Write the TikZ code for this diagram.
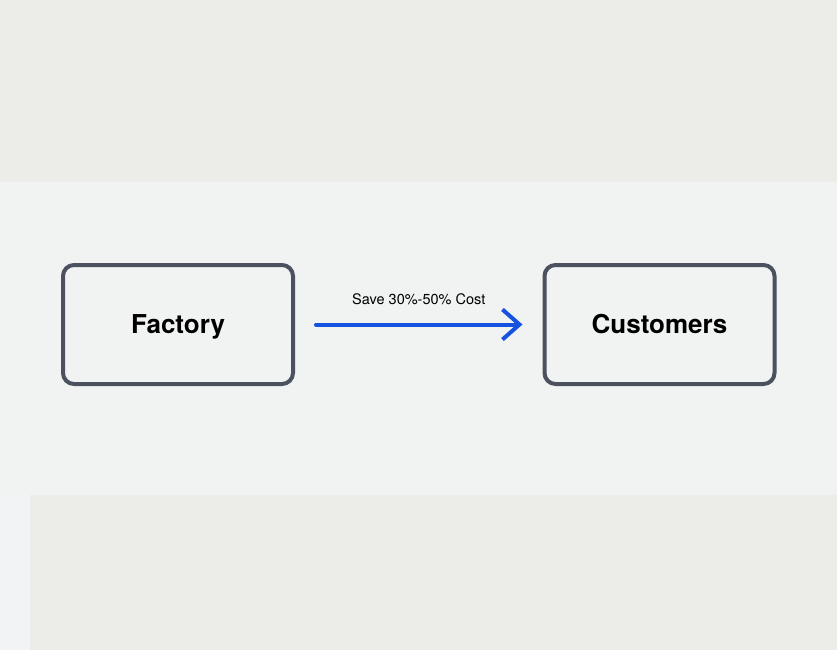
\documentclass[tikz,border=0pt]{standalone}
\usepackage{fontspec}
\setmainfont{TeX Gyre Heros}
\usetikzlibrary{arrows.meta,positioning}
\definecolor{bgtop}{HTML}{ECECE8}
\definecolor{bgmid}{HTML}{F1F2F2}
\definecolor{bgstrip}{HTML}{F2F3F4}
\definecolor{boxline}{HTML}{4B515E}
\definecolor{flowblue}{HTML}{1552DF}
\begin{document}
\begin{tikzpicture}[line cap=round,line join=round,x=1pt,y=-1pt,
	site/.style={draw=boxline,line width=4pt,rounded corners=11pt,fill=bgmid,
		minimum width=230pt,minimum height=119pt,text height=18.7pt,text depth=0pt,
		font=\fontsize{26}{30}\selectfont\bfseries},
	flow/.style={draw=flowblue,line width=4pt,-{Straight Barb[length=17pt,width=30pt,line width=4pt]}},
	saving/.style={font=\fontsize{14.5}{17}\selectfont,inner sep=0pt,text=black}]

\fill[bgtop] (0,0) rectangle (837,650);
\fill[bgmid] (0,182) rectangle (837,495);
\fill[bgstrip] (0,495) rectangle (30,650);
\useasboundingbox (0,0) rectangle (837,650);

\node[site] (factory) at (178,324.5) {Factory};
\node[site] (customers) at (659.5,324.5) {Customers};

\draw[flow,shorten <=21pt,shorten >=20pt] (factory.east) -- node[saving,above=18pt] (cost) {Save 30\%-50\% Cost} (customers.west);
\end{tikzpicture}
\end{document}
